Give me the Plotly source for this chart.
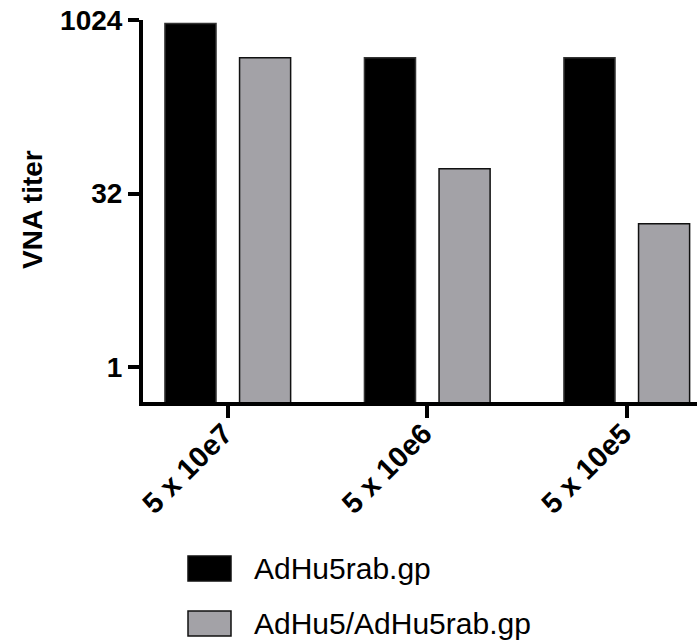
import plotly.graph_objects as go

# ---- data ----
categories = ["5 x 10e7", "5 x 10e6", "5 x 10e5"]
series_names = ["AdHu5rab.gp", "AdHu5/AdHu5rab.gp"]
adhu5rab = [955, 481, 481]
adhu5_adhu5rab = [481, 52.5, 17.5]
y_tickvals = [1, 32, 1024]
y_ticktext = ["1", "32", "1024"]

# ---- layout geometry (pixels) ----
W, H = 697, 641
L, R, T, B = 143, 0, 20, 239
PW, PH = W - L - R, H - T - B

def px_x(px):
    return (px - L) / PW

def px_y(py):
    return (H - B - py) / PH

FONT = "Liberation Sans, Arial, Helvetica, sans-serif"
colors = ["#000000", "#a3a2a7"]
outline = ["#333333", "#111111"]
offsets = [-0.316, 0.058]
bw = 0.256

fig = go.Figure()
for name, vals, c, oc, off in zip(series_names, [adhu5rab, adhu5_adhu5rab], colors, outline, offsets):
    fig.add_trace(go.Bar(
        x=categories, y=vals, name=name,
        marker=dict(color=c, line=dict(color=oc, width=1.5)),
        width=bw, offset=off,
        showlegend=False,
    ))

fig.update_layout(
    width=W, height=H,
    margin=dict(l=L, r=R, t=T, b=B, pad=0),
    paper_bgcolor="white", plot_bgcolor="white",
    barmode="overlay",
    font=dict(family=FONT, color="black"),
    xaxis=dict(
        type="category", range=[-0.426, 2.351],
        showline=True, linecolor="black", linewidth=4,
        ticks="outside", ticklen=12, tickwidth=4, tickcolor="black",
        tickangle=-45, showgrid=False, zeroline=False,
        ticklabelstandoff=-13, ticklabelshift=-4,
        tickfont=dict(size=29, weight="bold", family=FONT),
    ),
    yaxis=dict(
        type="log", range=[-0.30103, 3.0103],
        tickvals=y_tickvals, ticktext=y_ticktext,
        showline=True, linecolor="black", linewidth=4,
        ticks="outside", ticklen=11, tickwidth=4, tickcolor="black",
        showgrid=False, zeroline=False,
        tickfont=dict(size=28, weight="bold", family=FONT),
    ),
)

# y-axis title
fig.add_annotation(
    text="VNA titer", textangle=-90, showarrow=False,
    xref="paper", yref="paper", x=px_x(32), y=px_y(210),
    xanchor="center", yanchor="middle",
    font=dict(size=28, weight="bold", family=FONT, color="black"),
)

# custom legend
legend_rows = [568.5, 623.5]
for name, c, yc in zip(series_names, colors, legend_rows):
    fig.add_shape(
        type="rect", xref="paper", yref="paper",
        x0=px_x(188), x1=px_x(231), y0=px_y(yc - 12.5), y1=px_y(yc + 12.5),
        fillcolor=c, line=dict(color="#111111", width=1.5),
    )
    fig.add_annotation(
        text=name, showarrow=False, xref="paper", yref="paper",
        x=px_x(252), y=px_y(yc), xanchor="left", yanchor="middle",
        font=dict(size=30, family=FONT, color="black"),
    )

fig.write_html("out.html")
